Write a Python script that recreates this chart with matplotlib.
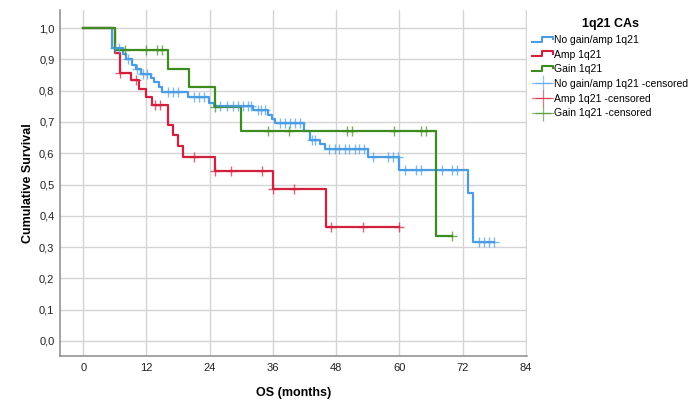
import numpy as np
import matplotlib
matplotlib.use('Agg')
import matplotlib.pyplot as plt
from matplotlib.lines import Line2D
from matplotlib.legend_handler import HandlerBase

plt.rcParams['font.family'] = ['Liberation Sans', 'DejaVu Sans']

# Kaplan-Meier steps (time in months, survival after the step)
no_gain_t = [0, 5.4, 7.5, 8.2, 9.2, 10.1, 10.9, 12.8, 13.5, 14.3, 15.0, 19.9, 23.9, 24.8,
             32.3, 35.1, 35.8, 36.4, 41.9, 43.0, 45.0, 45.9, 54.1, 60.0, 73.0, 74.0]
no_gain_s = [1.0, 0.937, 0.918, 0.900, 0.883, 0.868, 0.853, 0.841, 0.828, 0.813, 0.797, 0.781, 0.762, 0.752,
             0.738, 0.722, 0.708, 0.696, 0.672, 0.644, 0.631, 0.615, 0.589, 0.548, 0.474, 0.317]
no_gain_end = 78.0
no_gain_cens = [6.1, 6.8, 8.5, 10.3, 11.4, 12.1, 16, 17, 18, 21, 22, 23, 25.9, 27.2, 28.4, 29.4,
                30.3, 31.3, 31.9, 33.2, 33.8, 34.5, 37.3, 38.3, 39.2, 40.2, 41.1, 43.4, 44, 46.7,
                47.7, 48.6, 49.6, 50.5, 51.5, 52.4, 53.3, 55, 57.8, 58.7, 59.7, 61, 63.1, 64, 68.1,
                70, 71, 75.1, 76, 77, 77.9]

amp_t = [0, 6, 7, 9, 10.5, 12, 13, 16, 17, 18, 19, 25, 36, 46]
amp_s = [1.0, 0.921, 0.857, 0.834, 0.807, 0.781, 0.754, 0.690, 0.658, 0.624, 0.587, 0.543, 0.485, 0.365]
amp_end = 60.0
amp_cens = [7, 10, 13.6, 14.6, 21, 25, 28, 34, 36, 40, 47, 53, 60]

gain_t = [0, 6, 16, 20, 25, 30, 67]
gain_s = [1.0, 0.929, 0.870, 0.813, 0.747, 0.670, 0.335]
gain_end = 70.0
gain_cens = [8, 12, 14, 15, 25, 35, 39, 50, 51, 59, 64, 65, 70]

labels = ['No gain/amp 1q21', 'Amp 1q21', 'Gain 1q21']
colors = ['#4a9de4', '#d2203f', '#3c8c1e']


def surv_at(t, s, times):
    idx = np.searchsorted(t, times, side='right') - 1
    return np.asarray(s)[idx]


class StepHandler(HandlerBase):
    def create_artists(self, legend, orig_handle, xdescent, ydescent, width, height, fontsize, trans):
        x0 = -xdescent
        y0 = -ydescent
        xs = [x0, x0 + width * 0.45, x0 + width * 0.45, x0 + width, x0 + width]
        ys = [y0 + height * 0.15, y0 + height * 0.15, y0 + height * 0.85, y0 + height * 0.85, y0 + height * 0.55]
        ln = Line2D(xs, ys, color=orig_handle.get_color(), lw=1.5, transform=trans)
        return [ln]


fig = plt.figure(figsize=(6.93, 4.01), dpi=100)
ax = fig.add_axes([60 / 693, 1 - 356 / 401, 467 / 693, 346 / 401])

groups = [(no_gain_t, no_gain_s, no_gain_end, no_gain_cens),
          (amp_t, amp_s, amp_end, amp_cens),
          (gain_t, gain_s, gain_end, gain_cens)]

line_handles = []
cens_handles = []
for (t, s, end, cens), col, lab in zip(groups, colors, labels):
    tt = list(t) + [end]
    ss = list(s) + [s[-1]]
    ln, = ax.step(tt, ss, where='post', color=col, lw=1.6, zorder=3)
    ax.plot(cens, surv_at(t, s, cens), ls='none', marker='+', ms=6.5, mew=1,
            color=col, alpha=0.7, zorder=4)
    line_handles.append(ln)
    cens_handles.append(Line2D([], [], color=col, lw=0.9, alpha=0.6, marker='+', ms=11, mew=0.9))

ax.set_xlim(-4.4, 84.2)
ax.set_ylim(-0.048, 1.058)
ax.set_xticks(np.arange(0, 85, 12))
ax.set_yticks(np.arange(0, 1.01, 0.1))
ax.set_yticklabels([f'{v:.1f}'.replace('.', ',') for v in np.arange(0, 1.01, 0.1)])
ax.grid(True, color='#d4d4d4', lw=1)
ax.set_axisbelow(True)
ax.tick_params(length=0, labelsize=8, colors='#222222')
ax.tick_params(axis='x', pad=5)
ax.tick_params(axis='y', pad=4)
for side in ['top', 'right']:
    ax.spines[side].set_visible(False)
for side in ['left', 'bottom']:
    ax.spines[side].set_color('#8a8a8a')
    ax.spines[side].set_linewidth(1.1)

ax.set_xlabel('OS (months)', fontsize=9, fontweight='bold', labelpad=10)
ax.set_ylabel('Cumulative Survival', fontsize=9, fontweight='bold', labelpad=4)

handles = line_handles + cens_handles
leg_labels = labels + [l + ' -censored' for l in labels]
hmap = {h: StepHandler() for h in line_handles}
leg = fig.legend(handles, leg_labels, handler_map=hmap, loc='upper left',
                 bbox_to_anchor=(528 / 693, 1 - 14 / 401), frameon=False,
                 fontsize=7.5, title='1q21 CAs', handlelength=2.0, handletextpad=0.1,
                 labelspacing=0.45, borderaxespad=0)
leg.get_title().set_fontweight('bold')
leg.get_title().set_fontsize(9)

fig.savefig('out.png', dpi=100)
